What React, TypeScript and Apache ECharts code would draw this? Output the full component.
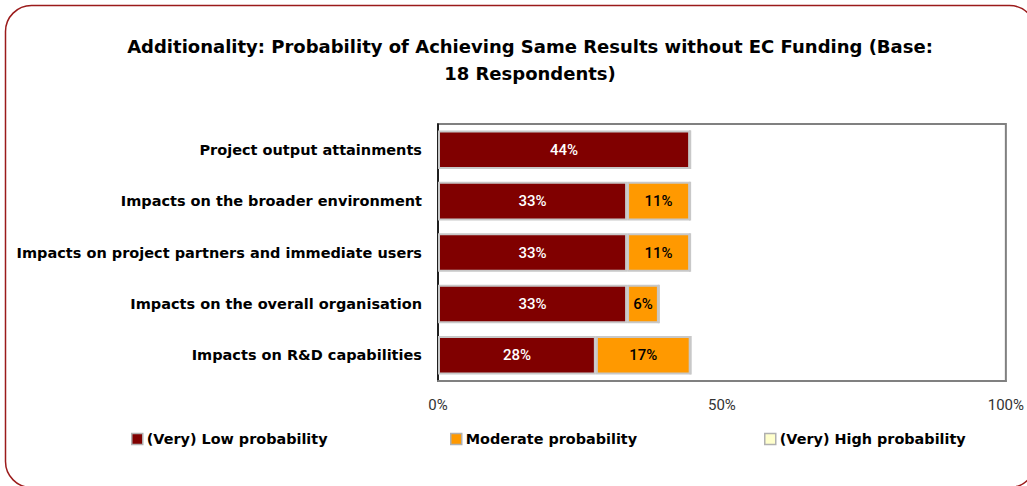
import React, { useEffect, useRef } from "react";
import * as echarts from "echarts";

const categories = [
  "Project output attainments",
  "Impacts on the broader environment",
  "Impacts on project partners and immediate users",
  "Impacts on the overall organisation",
  "Impacts on R&D capabilities",
];
const lowProbability = [44.4, 33.3, 33.3, 33.3, 27.8];
const moderateProbability = [0, 11.1, 11.1, 5.6, 16.7];
const highProbability = [0, 0, 0, 0, 0];
const seriesNames = ["(Very) Low probability", "Moderate probability", "(Very) High probability"];
const seriesColors = ["#800000", "#FF9900", "#FFFFCC"];
const labelColors = ["#ffffff", "#000000", "#000000"];
const xTicks = [0, 50, 100];

export default function App() {
  const ref = useRef<HTMLDivElement>(null);
  useEffect(() => {
    if (!ref.current) return;
    const chart = echarts.init(ref.current, null, { renderer: "svg" });
    const values = [lowProbability, moderateProbability, highProbability];
    const legendX = [131, 450, 764];
    const boldFont = "DejaVu Sans, sans-serif";
    chart.setOption({
      animation: false,
      textStyle: { fontFamily: boldFont },
      title: {
        text: "Additionality: Probability of Achieving Same Results without EC Funding (Base:\n18 Respondents)",
        left: 525,
        top: 28,
        textAlign: "center",
        textStyle: { fontSize: 18, fontWeight: "bold", color: "#000", lineHeight: 27, fontFamily: boldFont },
      },
      graphic: [
        {
          type: "rect",
          shape: { x: 5.5, y: 5.5, width: 1030, height: 482, r: 26 },
          style: { fill: "none", stroke: "#9B1B1B", lineWidth: 1.5 },
          silent: true,
          z: -1,
        },
      ],
      legend: seriesNames.map((n, i) => ({
        data: [n],
        left: legendX[i],
        top: 432,
        padding: 0,
        itemWidth: 11,
        itemHeight: 11,
        itemGap: 4,
        icon: "rect",
        itemStyle: { borderColor: "#b0b0b0", borderWidth: 1.5 },
        textStyle: { fontSize: 14.4, fontWeight: "bold", color: "#000", fontFamily: boldFont, padding: [0, 0, 0, -1] },
        selectedMode: false,
      })),
      grid: {
        left: 438,
        top: 124,
        right: 21,
        bottom: 486 - 381,
        show: true,
        borderColor: "#808080",
        borderWidth: 2,
        backgroundColor: "#fff",
      },
      xAxis: {
        type: "value",
        min: 0,
        max: 100,
        interval: 50,
        splitLine: { show: false },
        axisLine: { show: true, lineStyle: { color: "#808080", width: 2 } },
        axisTick: { show: false },
        axisLabel: {
          formatter: (v: number) => (xTicks.includes(v) ? `${v}%` : ""),
          fontSize: 15,
          color: "#333",
          fontFamily: "Roboto",
          margin: 16,
        },
      },
      yAxis: {
        type: "category",
        data: categories,
        inverse: true,
        axisLine: { show: true, lineStyle: { color: "#000", width: 1.5 } },
        axisTick: { show: false },
        axisLabel: { fontSize: 14.5, fontWeight: "bold", color: "#000", margin: 16, fontFamily: boldFont },
      },
      series: seriesNames.map((n, i) => ({
        name: n,
        type: "bar",
        stack: "total",
        data: values[i],
        barCategoryGap: "25%",
        itemStyle: { color: seriesColors[i], borderColor: "#c8c8c8", borderWidth: 2 },
        label: {
          show: true,
          position: "inside",
          color: labelColors[i],
          fontSize: 15,
          fontWeight: 500,
          fontFamily: "Roboto",
          formatter: (p: any) => (p.value > 0 ? `${Math.round(p.value)}%` : ""),
        },
      })),
    });
    return () => chart.dispose();
  }, []);
  return (
    <div
      ref={ref}
      style={{ position: "absolute", left: 0, top: 0, width: 1027, height: 486, background: "#fff" }}
    />
  );
}
